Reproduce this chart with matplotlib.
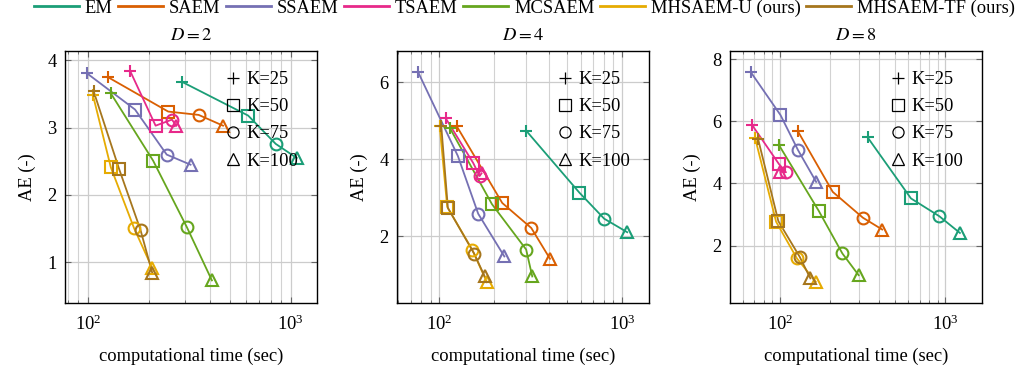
import matplotlib
matplotlib.use("Agg")
import matplotlib.pyplot as plt
from matplotlib.lines import Line2D
from matplotlib.ticker import LogLocator, NullFormatter, FixedLocator

plt.rcParams['font.family'] = ['Liberation Serif', 'DejaVu Serif']
plt.rcParams['mathtext.fontset'] = 'stix'

methods = ["EM", "SAEM", "SSAEM", "TSAEM", "MCSAEM", "MHSAEM-U (ours)", "MHSAEM-TF (ours)"]
colors = ["#1b9e77", "#d95f02", "#7570b3", "#e7298a", "#66a61e", "#e6ab02", "#a6761d"]
K_labels = ["K=25", "K=50", "K=75", "K=100"]
K_markers = ["+", "s", "o", "^"]
dims = [2, 4, 8]

# time (sec) per method for K=25,50,75,100
time_D2 = {
    "EM": [292, 617, 843, 1070],
    "SAEM": [126, 249, 352, 464],
    "SSAEM": [99, 171, 245, 321],
    "TSAEM": [162, 216, 260, 273],
    "MCSAEM": [130, 210, 308, 409],
    "MHSAEM-U (ours)": [106, 130, 169, 208],
    "MHSAEM-TF (ours)": [107, 143, 182, 208],
}
ae_D2 = {
    "EM": [3.68, 3.18, 2.76, 2.55],
    "SAEM": [3.75, 3.24, 3.19, 3.03],
    "SSAEM": [3.81, 3.27, 2.60, 2.45],
    "TSAEM": [3.84, 3.03, 3.12, 3.03],
    "MCSAEM": [3.51, 2.51, 1.52, 0.73],
    "MHSAEM-U (ours)": [3.49, 2.41, 1.51, 0.91],
    "MHSAEM-TF (ours)": [3.54, 2.38, 1.48, 0.84],
}
time_D4 = {
    "EM": [300, 586, 802, 1071],
    "SAEM": [125, 222, 320, 405],
    "SSAEM": [77, 127, 164, 228],
    "TSAEM": [109, 154, 167, 171],
    "MCSAEM": [115, 195, 300, 324],
    "MHSAEM-U (ours)": [101, 111, 152, 183],
    "MHSAEM-TF (ours)": [103, 112, 156, 178],
}
ae_D4 = {
    "EM": [4.74, 3.13, 2.45, 2.10],
    "SAEM": [4.86, 2.86, 2.21, 1.41],
    "SSAEM": [6.26, 4.08, 2.58, 1.47],
    "TSAEM": [5.06, 3.90, 3.56, 3.63],
    "MCSAEM": [4.80, 2.83, 1.65, 0.95],
    "MHSAEM-U (ours)": [4.86, 2.76, 1.65, 0.80],
    "MHSAEM-TF (ours)": [4.86, 2.73, 1.54, 0.95],
}
time_D8 = {
    "EM": [340, 621, 920, 1228],
    "SAEM": [128, 209, 318, 416],
    "SSAEM": [67, 101, 129, 166],
    "TSAEM": [68, 99, 109, 101],
    "MCSAEM": [99, 172, 239, 300],
    "MHSAEM-U (ours)": [71, 95, 127, 165],
    "MHSAEM-TF (ours)": [74, 98, 132, 153],
}
ae_D8 = {
    "EM": [5.48, 3.52, 2.95, 2.41],
    "SAEM": [5.70, 3.73, 2.90, 2.52],
    "SSAEM": [7.57, 6.20, 5.07, 4.05],
    "TSAEM": [5.88, 4.62, 4.36, 4.38],
    "MCSAEM": [5.23, 3.12, 1.75, 1.05],
    "MHSAEM-U (ours)": [5.45, 2.77, 1.59, 0.84],
    "MHSAEM-TF (ours)": [5.42, 2.79, 1.64, 0.95],
}
times = [time_D2, time_D4, time_D8]
aes = [ae_D2, ae_D4, ae_D8]
yticks = [[1, 2, 3, 4], [2, 4, 6], [2, 4, 6, 8]]
xlims = [(77.3, 1347), (59, 1409), (50, 1670)]
ylims = [(0.394, 4.14), (0.26, 6.81), (0.157, 8.26)]

FS = 13.3
W, H = 1023, 371
fig = plt.figure(figsize=(W / 100, H / 100), dpi=100)
lefts = [65, 397, 730]
msz = {"+": 8.5, "s": 8.5, "o": 8.5, "^": 8.5}
for i, D in enumerate(dims):
    ax = fig.add_axes([lefts[i] / W, (H - 303) / H, 252 / W, 252 / H])
    ax.set_xscale("log")
    for m, c in zip(methods, colors):
        xs = times[i][m]
        ys = aes[i][m]
        ax.plot(xs, ys, color=c, lw=1.3, zorder=3)
        for x, y, mk in zip(xs, ys, K_markers):
            ax.plot([x], [y], marker=mk, color=c, mfc="none", mec=c,
                    ms=msz[mk], mew=1.5, zorder=4)
    ax.set_xlim(*xlims[i])
    ax.set_ylim(*ylims[i])
    ax.yaxis.set_major_locator(FixedLocator(yticks[i]))
    ax.xaxis.set_major_locator(LogLocator(base=10))
    ax.xaxis.set_minor_locator(LogLocator(base=10, subs=range(2, 10)))
    ax.xaxis.set_minor_formatter(NullFormatter())
    ax.grid(True, which="major", color="#cccccc", lw=0.9, zorder=0)
    ax.grid(True, which="minor", axis="x", color="#d2d2d2", lw=0.8, zorder=0)
    ax.tick_params(which="both", direction="in", top=True, right=True,
                   labelsize=FS, color="#666666")
    ax.tick_params(which="major", length=4)
    ax.tick_params(which="minor", length=2.5)
    ax.tick_params(axis="x", pad=8)
    ax.tick_params(axis="y", pad=6)
    for s in ax.spines.values():
        s.set_linewidth(1.0)
    ax.set_title(f"$D = {D}$", fontsize=FS, pad=8)
    ax.set_xlabel("computational time (sec)", fontsize=FS, labelpad=10)
    ax.set_ylabel("AE (-)", fontsize=FS, labelpad=8)
    kh = [Line2D([], [], ls="none", marker=mk, color="black", mfc="none",
                 ms=8, mew=0.9) for mk in K_markers]
    ax.legend(kh, K_labels, loc="upper left", frameon=False, fontsize=FS,
              handlelength=0.8, handletextpad=0.3, labelspacing=0.55,
              borderpad=0, borderaxespad=0, bbox_to_anchor=(0.638, 0.92))

lh = [Line2D([], [], color=c, lw=2) for c in colors]
fig.legend(lh, methods, loc="center left", ncol=7, frameon=False, fontsize=FS,
           bbox_to_anchor=(34 / W, 1 - 8 / H), handlelength=2.43,
           handletextpad=0.32, columnspacing=0.3, borderpad=0, borderaxespad=0)

fig.savefig("out.png", dpi=100)
